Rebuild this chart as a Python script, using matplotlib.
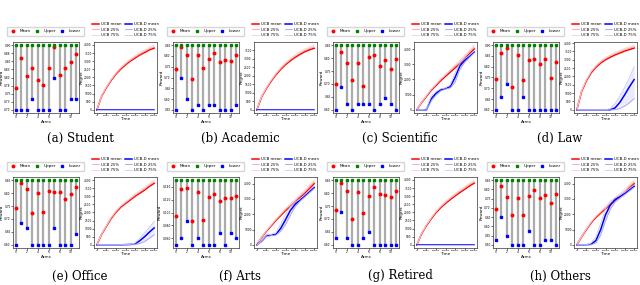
import matplotlib
matplotlib.use("Agg")
import matplotlib.pyplot as plt
from matplotlib.ticker import FormatStrFormatter

PANELS = ["(a) Student", "(b) Academic", "(c) Scientific", "(d) Law",
          "(e) Office", "(f) Arts", "(g) Retired", "(h) Others"]
ARMS = list(range(12))

# per-arm reward estimates, one row per panel
ARM_MEAN = [
    [0.767, 0.861, 0.806, 0.830, 0.791, 0.778, 0.828, 0.894, 0.808, 0.828, 0.848, 0.874],
    [0.738, 0.843, 0.803, 0.692, 0.805, 0.742, 0.784, 0.812, 0.770, 0.782, 0.775, 0.803],
    [0.698, 0.822, 0.783, 0.714, 0.783, 0.694, 0.803, 0.813, 0.768, 0.794, 0.757, 0.796],
    [0.743, 0.863, 0.885, 0.705, 0.855, 0.740, 0.830, 0.835, 0.811, 0.836, 0.749, 0.823],
    [0.741, 0.838, 0.816, 0.725, 0.801, 0.728, 0.810, 0.804, 0.804, 0.779, 0.795, 0.823],
    [0.095, 0.137, 0.138, 0.087, 0.131, 0.088, 0.124, 0.129, 0.118, 0.123, 0.123, 0.125],
    [0.733, 0.841, 0.810, 0.701, 0.806, 0.723, 0.789, 0.823, 0.798, 0.794, 0.785, 0.810],
    [0.694, 0.819, 0.759, 0.659, 0.752, 0.663, 0.766, 0.798, 0.756, 0.768, 0.728, 0.777],
]
ARM_LOWER = [
    [0.700, 0.700, 0.700, 0.732, 0.700, 0.700, 0.700, 0.800, 0.700, 0.700, 0.732, 0.732],
    [0.550, 0.699, 0.598, 0.550, 0.571, 0.550, 0.571, 0.571, 0.550, 0.550, 0.550, 0.571],
    [0.600, 0.689, 0.624, 0.600, 0.624, 0.624, 0.624, 0.600, 0.624, 0.646, 0.624, 0.600],
    [0.600, 0.661, 0.720, 0.600, 0.600, 0.661, 0.600, 0.600, 0.600, 0.600, 0.600, 0.600],
    [0.600, 0.685, 0.664, 0.600, 0.600, 0.600, 0.600, 0.664, 0.600, 0.600, 0.600, 0.641],
    [0.050, 0.060, 0.087, 0.050, 0.060, 0.050, 0.050, 0.050, 0.068, 0.050, 0.068, 0.060],
    [0.625, 0.726, 0.625, 0.600, 0.600, 0.625, 0.650, 0.600, 0.600, 0.600, 0.600, 0.600],
    [0.526, 0.651, 0.549, 0.500, 0.500, 0.500, 0.575, 0.500, 0.500, 0.526, 0.526, 0.500],
]
ARM_UPPER = [0.90, 0.85, 0.85, 0.90, 0.85, 0.15, 0.85, 0.85]  # same for every arm

TIME = [0, 25000, 50000, 75000, 100000, 125000, 150000, 175000,
        200000, 225000, 250000, 275000, 300000]

UCB_MEAN = [
    [0, 840, 1370, 1820, 2200, 2510, 2770, 3000, 3190, 3380, 3530, 3690, 3800],
    [0, 760, 1250, 1680, 2050, 2370, 2640, 2870, 3070, 3240, 3390, 3510, 3600],
    [0, 480, 880, 1280, 1600, 1920, 2200, 2480, 2760, 3040, 3360, 3680, 4000],
    [0, 1110, 1740, 2220, 2550, 2810, 3000, 3150, 3290, 3400, 3520, 3610, 3700],
    [0, 650, 1140, 1630, 2010, 2320, 2550, 2770, 3000, 3190, 3380, 3610, 3800],
    [0, 480, 880, 1240, 1600, 1920, 2240, 2520, 2800, 3080, 3360, 3680, 4000],
    [0, 680, 1180, 1600, 1980, 2290, 2550, 2790, 3010, 3220, 3420, 3620, 3800],
    [0, 520, 1000, 1440, 1800, 2080, 2360, 2640, 2920, 3160, 3400, 3720, 4000],
]
UCB_Q25 = [
    [0, 850, 1390, 1840, 2230, 2550, 2820, 3050, 3250, 3440, 3600, 3760, 3880],
    [0, 770, 1270, 1710, 2090, 2410, 2690, 2930, 3130, 3310, 3460, 3590, 3680],
    [0, 500, 910, 1320, 1650, 1980, 2270, 2560, 2850, 3140, 3460, 3790, 4120],
    [0, 1130, 1770, 2260, 2600, 2870, 3060, 3220, 3360, 3470, 3590, 3690, 3780],
    [0, 660, 1160, 1660, 2050, 2370, 2600, 2830, 3060, 3260, 3450, 3680, 3880],
    [0, 490, 900, 1270, 1640, 1970, 2300, 2590, 2880, 3170, 3460, 3780, 4110],
    [0, 690, 1200, 1630, 2020, 2340, 2600, 2850, 3070, 3290, 3490, 3700, 3880],
    [0, 530, 1020, 1470, 1840, 2130, 2420, 2710, 3000, 3250, 3490, 3820, 4100],
]
UCB_Q75 = [
    [0, 870, 1420, 1890, 2290, 2620, 2890, 3130, 3330, 3530, 3690, 3860, 3980],
    [0, 790, 1300, 1750, 2140, 2470, 2760, 3000, 3210, 3390, 3550, 3680, 3780],
    [0, 520, 940, 1360, 1700, 2040, 2340, 2640, 2940, 3240, 3570, 3910, 4250],
    [0, 1160, 1810, 2310, 2660, 2930, 3130, 3290, 3440, 3550, 3680, 3770, 3870],
    [0, 680, 1190, 1700, 2100, 2420, 2670, 2900, 3140, 3340, 3540, 3780, 3990],
    [0, 510, 930, 1310, 1690, 2030, 2370, 2670, 2970, 3270, 3570, 3900, 4230],
    [0, 710, 1230, 1670, 2070, 2400, 2670, 2920, 3150, 3370, 3580, 3790, 3980],
    [0, 550, 1050, 1510, 1890, 2190, 2490, 2790, 3090, 3350, 3600, 3940, 4230],
]
ZERO = [0] * 13
UCBD_MEAN = [
    ZERO, ZERO,
    [0, 0, 0, 720, 1080, 1320, 1400, 1520, 2120, 2880, 3240, 3520, 3800],
    [0, 0, 0, 0, 0, 0, 0, 0, 110, 440, 890, 1370, 1810],
    [0, 0, 0, 0, 0, 0, 10, 20, 60, 250, 500, 780, 1040],
    [0, 240, 600, 640, 680, 1080, 1640, 2240, 2640, 2920, 3200, 3480, 3760],
    ZERO,
    [0, 0, 0, 40, 280, 1000, 1960, 2600, 2960, 3160, 3360, 3600, 3840],
]
UCBD_Q25 = [
    ZERO, ZERO,
    [0, 0, 0, 560, 960, 1240, 1360, 1440, 1800, 2640, 3120, 3440, 3740],
    [0, 0, 0, 0, 0, 0, 0, 0, 0, 70, 220, 410, 670],
    [0, 0, 0, 0, 0, 0, 0, 0, 10, 80, 200, 400, 620],
    [0, 200, 520, 600, 640, 880, 1320, 1920, 2480, 2840, 3120, 3400, 3680],
    ZERO,
    [0, 0, 0, 0, 120, 640, 1560, 2320, 2800, 3040, 3280, 3520, 3760],
]
UCBD_Q75 = [
    ZERO, ZERO,
    [0, 0, 80, 880, 1200, 1380, 1440, 1640, 2440, 3080, 3360, 3600, 3880],
    [0, 0, 0, 0, 0, 0, 0, 70, 370, 810, 1330, 1920, 2590],
    [0, 0, 0, 0, 0, 0, 20, 30, 100, 400, 750, 1080, 1440],
    [0, 280, 640, 680, 800, 1360, 2000, 2480, 2800, 3000, 3280, 3560, 3840],
    ZERO,
    [0, 0, 0, 120, 520, 1400, 2360, 2840, 3080, 3240, 3440, 3680, 3920],
]

W, H = 640, 285
TICK_FS = 2.1
LAB_FS = 3.0


def style(ax):
    ax.tick_params(labelsize=TICK_FS, length=1.2, width=0.4, pad=0.5)
    for s in ax.spines.values():
        s.set_linewidth(0.5)
        s.set_color("#333333")


fig = plt.figure(figsize=(W / 100, H / 100), dpi=100)

for i, name in enumerate(PANELS):
    c, r = i % 4, i // 4
    top = 42 if r == 0 else 177
    bottom = 1 - (top + 71) / H

    # left: arm confidence intervals
    ax = fig.add_axes([(13 + 160 * c) / W, bottom, 66 / W, 71 / H])
    up = [ARM_UPPER[i]] * len(ARMS)
    ax.vlines(ARMS, ARM_LOWER[i], up, color="#ababab", linewidth=1.6, zorder=1)
    ax.plot(ARMS, ARM_MEAN[i], "o", color="red", ms=1.8, label="Mean", zorder=3)
    ax.plot(ARMS, up, "s", color="green", ms=1.6, label="Upper", zorder=3)
    ax.plot(ARMS, ARM_LOWER[i], "s", color="blue", ms=1.6, label="Lower", zorder=3)
    ax.set_xticks([0, 2, 4, 6, 8, 10])
    ax.yaxis.set_major_formatter(FormatStrFormatter("%.3f" if ARM_UPPER[i] < 0.5 else "%.2f"))
    ax.set_xlabel("Arms", fontsize=LAB_FS, labelpad=0.8)
    ax.set_ylabel("Reward", fontsize=LAB_FS, labelpad=0.3)
    style(ax)
    ax.legend(ncol=3, loc="lower left", bbox_to_anchor=(-0.12, 1.06, 1.22, 0.1),
              mode="expand", fontsize=LAB_FS, handlelength=1.5,
              borderpad=0.6, frameon=True, fancybox=True, edgecolor="#cccccc")

    # right: cumulative regret
    ax2 = fig.add_axes([(94 + 160 * c) / W, bottom, 63 / W, 71 / H])
    ax2.fill_between(TIME, UCB_Q25[i], UCB_Q75[i], color="#f8c8c8", alpha=0.25, lw=0)
    ax2.fill_between(TIME, UCBD_Q25[i], UCBD_Q75[i], color="#c8c8f8", alpha=0.35, lw=0)
    ax2.plot(TIME, UCB_MEAN[i], color="red", lw=1.1, label="UCB mean")
    ax2.plot(TIME, UCB_Q25[i], color="#f4a0a0", lw=0.6, label="UCB 25%")
    ax2.plot(TIME, UCB_Q75[i], color="#f9cccc", lw=0.6, label="UCB 75%")
    ax2.plot(TIME, UCBD_MEAN[i], color="blue", lw=1.1, label="UCB-D mean")
    ax2.plot(TIME, UCBD_Q25[i], color="#a0a0f4", lw=0.6, label="UCB-D 25%")
    ax2.plot(TIME, UCBD_Q75[i], color="#c8c8f9", lw=0.6, label="UCB-D 75%")
    ax2.set_xticks([0, 50000, 100000, 150000, 200000, 250000, 300000])
    ax2.set_xlabel("Time", fontsize=LAB_FS, labelpad=0.8)
    ax2.set_ylabel("Regret", fontsize=LAB_FS, labelpad=0.5)
    style(ax2)
    ax2.tick_params(axis="x", labelsize=1.6)
    ax2.legend(ncol=2, loc="lower center", bbox_to_anchor=(0.5, 1.03),
               fontsize=2.8, handlelength=1.7, frameon=False,
               columnspacing=0.9, labelspacing=0.35, handletextpad=0.5,
               borderpad=0.2)

    cap_y = 138 if r == 0 else 276
    fig.text((80 + 160 * c) / W, 1 - cap_y / H, name, ha="center", va="center",
             fontsize=8.5, family="DejaVu Serif")

fig.savefig("out.png", dpi=100)
